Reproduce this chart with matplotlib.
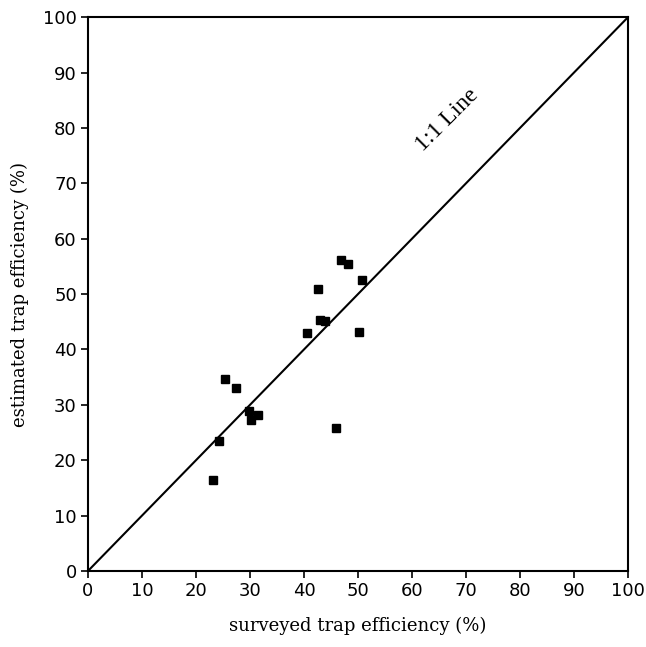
import matplotlib
matplotlib.use("Agg")
import matplotlib.pyplot as plt

surveyed = [46.9, 48.1, 50.7, 42.5, 43.0, 43.8, 40.6, 50.2, 25.4, 27.4, 29.8, 31.4, 30.1, 45.9, 24.3, 23.2]
estimated = [56.1, 55.4, 52.5, 50.9, 45.4, 45.1, 42.9, 43.1, 34.7, 33.1, 28.8, 28.2, 27.3, 25.8, 23.5, 16.4]
ticks = [0, 10, 20, 30, 40, 50, 60, 70, 80, 90, 100]
line_xy = [0, 100]

fig = plt.figure(figsize=(6.46, 6.47), dpi=100)
ax = fig.add_axes([0.1362, 0.1175, 0.836, 0.856])

ax.plot(line_xy, line_xy, color="black", lw=1.5)
ax.plot(surveyed, estimated, linestyle="none", marker="s", markersize=6, color="black")

ax.set_xlim(0, 100)
ax.set_ylim(0, 100)
ax.set_xticks(ticks)
ax.set_yticks(ticks)
ax.tick_params(direction="out", length=5, width=1.2, labelsize=13, pad=3)
for s in ax.spines.values():
    s.set_linewidth(1.5)

ax.set_xlabel("surveyed trap efficiency (%)", family="DejaVu Serif", fontsize=13, labelpad=12)
ax.set_ylabel("estimated trap efficiency (%)", family="DejaVu Serif", fontsize=13, labelpad=10)

ax.text(66.5, 81.5, "1:1 Line", rotation=45, family="Liberation Serif", fontsize=17,
        ha="center", va="center", rotation_mode="anchor")

fig.savefig("out.png", dpi=100)
